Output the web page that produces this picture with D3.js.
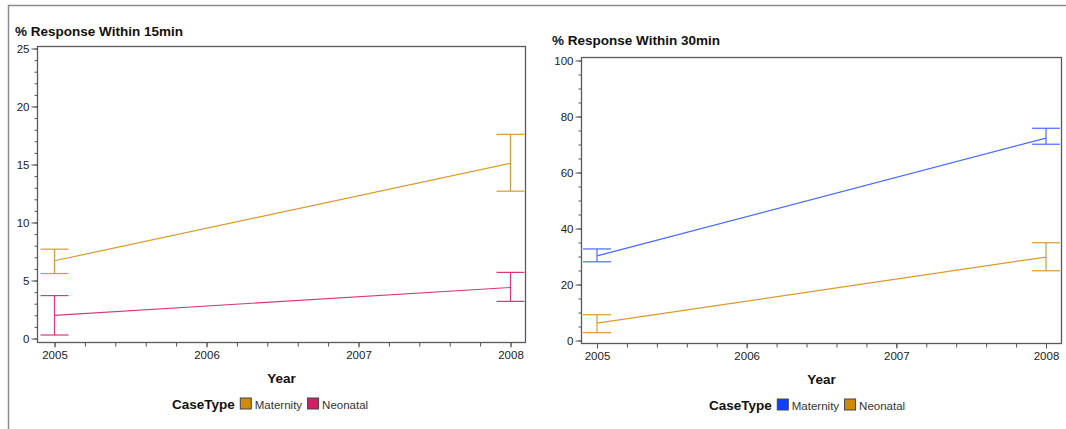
<!DOCTYPE html>
<html>
<head>
<meta charset="utf-8">
<script src="https://cdn.jsdelivr.net/npm/d3@7"></script>
<style>
  body { margin: 0; background: #fff; }
  svg text { font-family: "Liberation Sans", Arial, sans-serif; }
</style>
</head>
<body>
<div id="chart"></div>
<script>
// data
let years = [2005, 2008];
let xTicks = [2005, 2006, 2007, 2008];
let caseTypes = ["Maternity", "Neonatal"];

// % within 15 min
let mat15Mean = [6.7, 15.1];
let mat15Low  = [5.6, 12.7];
let mat15High = [7.7, 17.6];
let neo15Mean = [2.0, 4.4];
let neo15Low  = [0.3, 3.2];
let neo15High = [3.7, 5.7];
let y15Ticks = [0, 5, 10, 15, 20, 25];

// % within 30 min
let mat30Mean = [30.2, 72.3];
let mat30Low  = [28.1, 70.1];
let mat30High = [32.7, 75.8];
let neo30Mean = [6.2, 29.8];
let neo30Low  = [2.8, 24.9];
let neo30High = [9.2, 34.9];
let y30Ticks = [0, 20, 40, 60, 80, 100];

let W = 1066, H = 429;
let svg = d3.select("#chart").append("svg")
    .attr("width", W)
    .attr("height", H);

// outer frame
svg.append("path")
    .attr("d", `M8.5,${H} V5.5 H${W}`)
    .attr("fill", "none")
    .attr("stroke", "#8a8a8a")
    .attr("stroke-width", 1.5);

function rows(mean, low, high) {
    return years.map((y, i) => ({ year: y, mean: mean[i], low: low[i], high: high[i] }));
}

function drawPanel(cfg) {
    let g = svg.append("g");
    let x = d3.scaleLinear().domain([2005, 2008]).range(cfg.xRange);
    let y = d3.scaleLinear().domain(cfg.yDomain).range(cfg.yRange);
    let f = cfg.frame;

    // title
    g.append("text")
        .attr("x", cfg.titleX).attr("y", cfg.titleY)
        .attr("font-size", 13.5).attr("font-weight", "bold")
        .attr("fill", "#111")
        .text(cfg.title);

    // frame
    g.append("rect")
        .attr("x", f.x0).attr("y", f.y0)
        .attr("width", f.x1 - f.x0).attr("height", f.y1 - f.y0)
        .attr("fill", "none").attr("stroke", "#5a5a5a").attr("stroke-width", 1.3);

    // y axis (major + minor)
    let yMinor = d3.range(cfg.yDomain[0], cfg.yDomain[1] + 0.001, cfg.yMinorStep);
    let yMin = g.append("g").attr("transform", `translate(${f.x0},0)`)
        .call(d3.axisLeft(y).tickValues(yMinor).tickSize(3).tickFormat(""));
    let yMaj = g.append("g").attr("transform", `translate(${f.x0},0)`)
        .call(d3.axisLeft(y).tickValues(cfg.yTicks).tickSize(6).tickPadding(2));

    // x axis (major + minor)
    let xMinor = d3.range(2005, 2008.001, 0.2);
    let xMin = g.append("g").attr("transform", `translate(0,${f.y1})`)
        .call(d3.axisBottom(x).tickValues(xMinor).tickSize(4).tickFormat(""));
    let xMaj = g.append("g").attr("transform", `translate(0,${f.y1})`)
        .call(d3.axisBottom(x).tickValues(xTicks).tickSize(5).tickPadding(3).tickFormat(d3.format("d")));

    [yMin, yMaj, xMin, xMaj].forEach(a => {
        a.select(".domain").remove();
        a.selectAll("line").attr("stroke", "#555");
        a.selectAll("text").attr("font-size", 11.5).attr("fill", "#222")
            .attr("font-family", "'Liberation Sans', Arial, sans-serif");
    });

    // x axis label
    g.append("text")
        .attr("x", (f.x0 + f.x1) / 2).attr("y", f.y1 + 40)
        .attr("text-anchor", "middle")
        .attr("font-size", 13.5).attr("font-weight", "bold").attr("fill", "#111")
        .text("Year");

    // series: mean line + error bars
    let line = d3.line().x(d => x(d.year)).y(d => y(d.mean));
    cfg.series.forEach(s => {
        let sg = g.append("g");
        sg.append("path")
            .attr("d", line(s.data))
            .attr("fill", "none").attr("stroke", s.line).attr("stroke-width", 1.2);
        let bars = sg.selectAll(".bar").data(s.data).join("g").attr("class", "bar");
        bars.append("line")
            .attr("x1", d => x(d.year)).attr("x2", d => x(d.year))
            .attr("y1", d => y(d.low)).attr("y2", d => y(d.high))
            .attr("stroke", s.line).attr("stroke-width", 1.2);
        [d => d.low, d => d.high].forEach(acc => {
            bars.append("line")
                .attr("x1", d => x(d.year) - 14).attr("x2", d => x(d.year) + 14)
                .attr("y1", d => y(acc(d))).attr("y2", d => y(acc(d)))
                .attr("stroke", s.line).attr("stroke-width", 1.2);
        });
    });

    // legend
    let lg = g.append("g").attr("transform", `translate(${cfg.legendX},${f.y1 + 61})`);
    let lt = lg.append("text")
        .attr("x", 0).attr("y", 5)
        .attr("font-size", 13.5).attr("font-weight", "bold").attr("fill", "#111")
        .text("CaseType");
    let cx = lt.node().getComputedTextLength() + 5;
    cfg.series.forEach(s => {
        lg.append("rect")
            .attr("x", cx + 0.5).attr("y", -5.5)
            .attr("width", 11).attr("height", 11)
            .attr("fill", s.swatch).attr("stroke", "#444").attr("stroke-width", 1);
        let t = lg.append("text")
            .attr("x", cx + 15).attr("y", 5)
            .attr("font-size", 11.5).attr("fill", "#333")
            .text(s.name);
        cx += 15 + t.node().getComputedTextLength() + 5;
    });
}

drawPanel({
    title: "% Response Within 15min",
    titleX: 15, titleY: 36,
    frame: { x0: 37.5, y0: 46.5, x1: 525.5, y1: 342.5 },
    xRange: [54.5, 510.5],
    yDomain: [0, 25], yRange: [338.5, 48.5],
    yTicks: y15Ticks, yMinorStep: 1,
    legendX: 172,
    series: [
        { name: caseTypes[0], line: "#d99a2e", swatch: "#cf8a0c", data: rows(mat15Mean, mat15Low, mat15High) },
        { name: caseTypes[1], line: "#d8387a", swatch: "#d11f66", data: rows(neo15Mean, neo15Low, neo15High) }
    ]
});

drawPanel({
    title: "% Response Within 30min",
    titleX: 552, titleY: 45,
    frame: { x0: 581.5, y0: 57.5, x1: 1061.5, y1: 343.5 },
    xRange: [597, 1046],
    yDomain: [0, 100], yRange: [340.5, 60.5],
    yTicks: y30Ticks, yMinorStep: 5,
    legendX: 709,
    series: [
        { name: caseTypes[0], line: "#4a6cff", swatch: "#1040ff", data: rows(mat30Mean, mat30Low, mat30High) },
        { name: caseTypes[1], line: "#d99a2e", swatch: "#cf8a0c", data: rows(neo30Mean, neo30Low, neo30High) }
    ]
});
</script>
</body>
</html>
